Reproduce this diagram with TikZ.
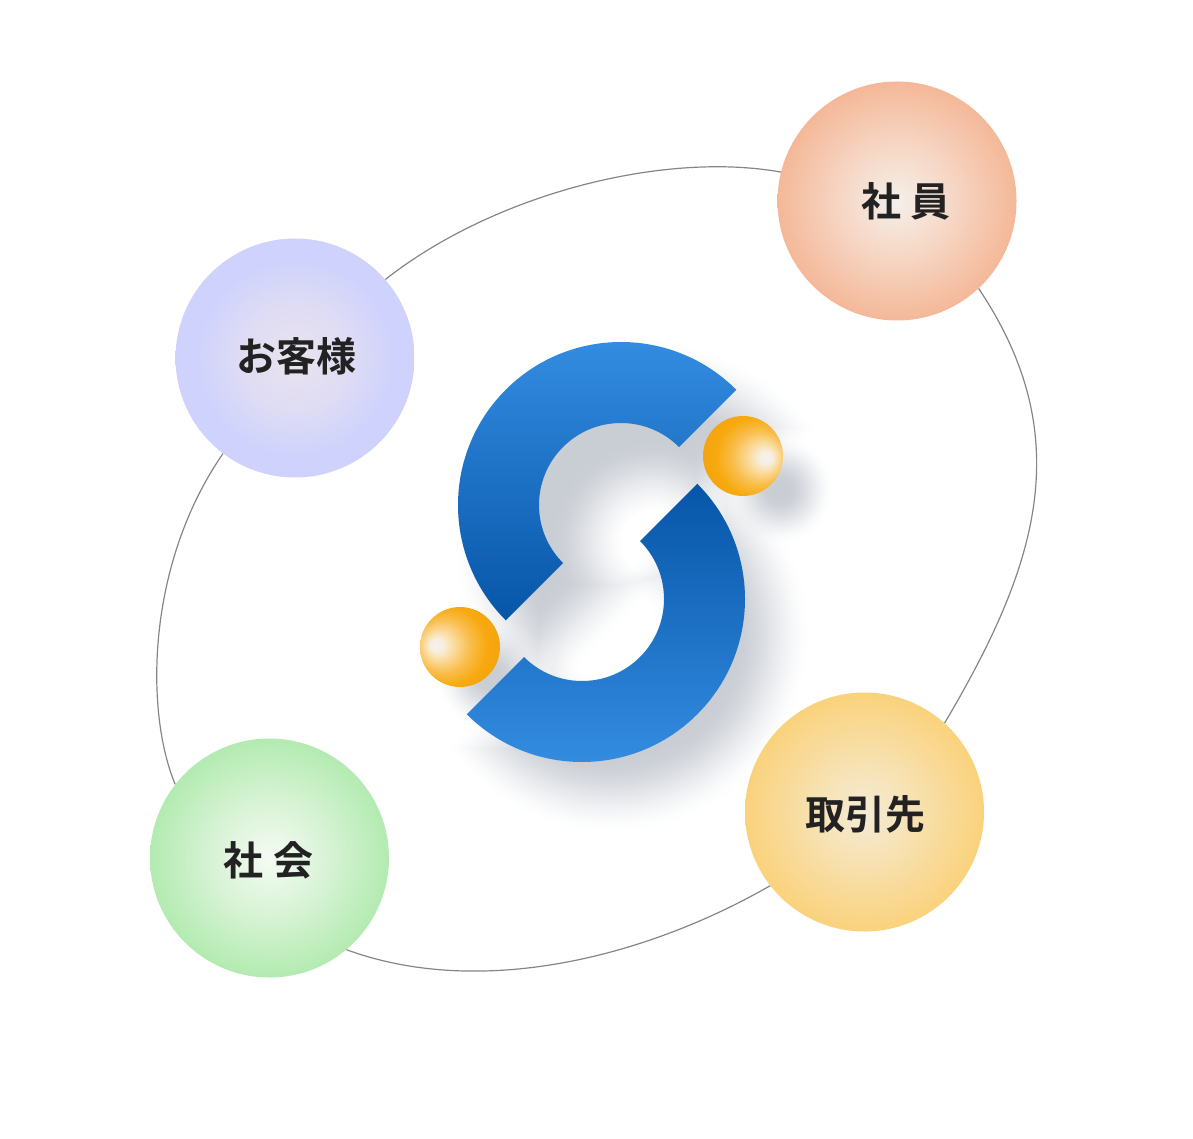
\documentclass[tikz,border=0pt]{standalone}
\usepackage{fontspec}
\setmainfont{Noto Sans CJK JP}[BoldFont={Noto Sans CJK JP Bold}]
\usetikzlibrary{positioning}

\definecolor{bandlight}{HTML}{368FE3}
\definecolor{banddark}{HTML}{0655A8}
\definecolor{shadowtone}{HTML}{C8CCD3}
\definecolor{ringline}{HTML}{858585}
\definecolor{labelink}{HTML}{222222}

\definecolor{shaincore}{HTML}{F5EFE9}
\definecolor{shainmid}{HTML}{F6D6C4}
\definecolor{shainrim}{HTML}{F4B898}
\definecolor{kyakucore}{HTML}{E9E4EE}
\definecolor{kyakumid}{HTML}{DFDCF4}
\definecolor{kyakurim}{HTML}{CED2FC}
\definecolor{torihikicore}{HTML}{F4EBD6}
\definecolor{torihikimid}{HTML}{F7E0AC}
\definecolor{torihikirim}{HTML}{FAD27C}
\definecolor{shakaicore}{HTML}{F5FBF4}
\definecolor{shakaimid}{HTML}{D8F3D6}
\definecolor{shakairim}{HTML}{B3EBB1}
\definecolor{ballhot}{HTML}{F3F2EC}
\definecolor{ballpale}{HTML}{F6EFE0}
\definecolor{ballcream}{HTML}{FBDCA0}
\definecolor{ballgold}{HTML}{F9BD4A}
\definecolor{ballamber}{HTML}{F7A90D}
\definecolor{ballrim}{HTML}{F09C17}

\pgfdeclareradialshading{shainglow}{\pgfpoint{0bp}{0bp}}{color(0bp)=(shaincore); color(12bp)=(shainmid); color(25bp)=(shainrim); color(50bp)=(shainrim)}
\pgfdeclareradialshading{kyakuglow}{\pgfpoint{0bp}{0bp}}{color(0bp)=(kyakucore); color(11bp)=(kyakumid); color(21bp)=(kyakurim); color(50bp)=(kyakurim)}
\pgfdeclareradialshading{torihikiglow}{\pgfpoint{0bp}{0bp}}{color(0bp)=(torihikicore); color(12bp)=(torihikimid); color(25bp)=(torihikirim); color(50bp)=(torihikirim)}
\pgfdeclareradialshading{shakaiglow}{\pgfpoint{0bp}{0bp}}{color(0bp)=(shakaicore); color(12bp)=(shakaimid); color(25bp)=(shakairim); color(50bp)=(shakairim)}
\pgfdeclareradialshading{ballright}{\pgfpoint{15.6bp}{-1.2bp}}{color(0bp)=(ballhot); color(4bp)=(ballpale); color(9bp)=(ballcream); color(17bp)=(ballgold); color(25bp)=(ballamber); color(40bp)=(ballrim); color(50bp)=(ballrim)}
\pgfdeclareradialshading{ballleft}{\pgfpoint{-16bp}{1.2bp}}{color(0bp)=(ballhot); color(4bp)=(ballpale); color(9bp)=(ballcream); color(17bp)=(ballgold); color(25bp)=(ballamber); color(40bp)=(ballrim); color(50bp)=(ballrim)}

\newcommand{\cband}[6]{%
  \pgfmathsetmacro{\rout}{163+#4}
  \pgfmathsetmacro{\rin}{max(#6-#4,#4+1)}
  \pgfmathsetmacro{\aout}{asin(#4/\rout)}
  \pgfmathsetmacro{\ain}{asin(#4/\rin)}
  \path[shift={(#1,#2)},#5] (#3+\aout:\rout) arc[start angle=#3+\aout,end angle=#3-180-\aout,radius=\rout]
    -- (#3-180-\ain:\rin) arc[start angle=#3-180-\ain,end angle=#3+\ain,radius=\rin] -- cycle;
}

\tikzset{
  party/.style={circle,minimum size=239pt,inner sep=0pt,text height=40pt,font=\bfseries\fontsize{40pt}{40pt}\selectfont,text=labelink},
  ball/.style={circle,minimum size=80pt,inner sep=0pt},
  ring/.style={draw=ringline,line width=1.2pt},
  castshadow/.style={fill=shadowtone,fill opacity=#1}
}

\begin{document}
\begin{tikzpicture}[x=1pt,y=-1pt]
    \useasboundingbox (0,0) rectangle (1193,1139);

    \foreach \layer in {1,...,30} {
        \pgfmathsetmacro{\grow}{40-80*\layer/30}
        \pgfmathsetmacro{\now}{.98*(3*(\layer/30)^2-2*(\layer/30)^3)}
        \pgfmathsetmacro{\before}{.98*(3*((\layer-1)/30)^2-2*((\layer-1)/30)^3)}
        \pgfmathsetmacro{\fade}{1-(1-\now)/(1-\before)}
        \cband{653}{542}{-45}{\grow}{castshadow=\fade}{62}
        \cband{611}{634}{135}{\grow}{castshadow=\fade}{82}
        \fill[castshadow=\fade] (780,490) circle[radius=32+\grow*.6];
        \fill[castshadow=\fade] (490,676) circle[radius=32+\grow*.6];
    }

    \cband{621}{505}{-45}{0}{top color=bandlight,bottom color=banddark}{82}
    \cband{582}{599}{135}{0}{top color=banddark,bottom color=bandlight}{82}

    \node[ball,shading=ballright] (ballupper) at (743,456) {};
    \node[ball,shading=ballleft] (balllower) at (460,647) {};

    \node[party,text depth=8pt,shading=shainglow] (shain) at (897,201) {\hspace{18pt}社\hspace{9pt}員};
    \node[party,text depth=14pt,shading=kyakuglow] (kyaku) at (295,358) {\hspace{2pt}お客様};
    \node[party,text depth=6pt,shading=torihikiglow] (torihiki) at (864.5,812) {\hspace{2pt}取引先};
    \node[party,text depth=6pt,shading=shakaiglow] (shakai) at (269.5,858) {\hspace{-3pt}社\hspace{10pt}会};

    \draw[ring] (kyaku.41) .. controls (494,194) and (663,151) .. (shain.166);
    \draw[ring] (shain.-47) .. controls (1079,438) and (1037,567) .. (torihiki.48);
    \draw[ring] (torihiki.218) .. controls (646,957) and (481,999) .. (shakai.-50);
    \draw[ring] (shakai.142) .. controls (145,712) and (146,565) .. (kyaku.233);
\end{tikzpicture}
\end{document}
